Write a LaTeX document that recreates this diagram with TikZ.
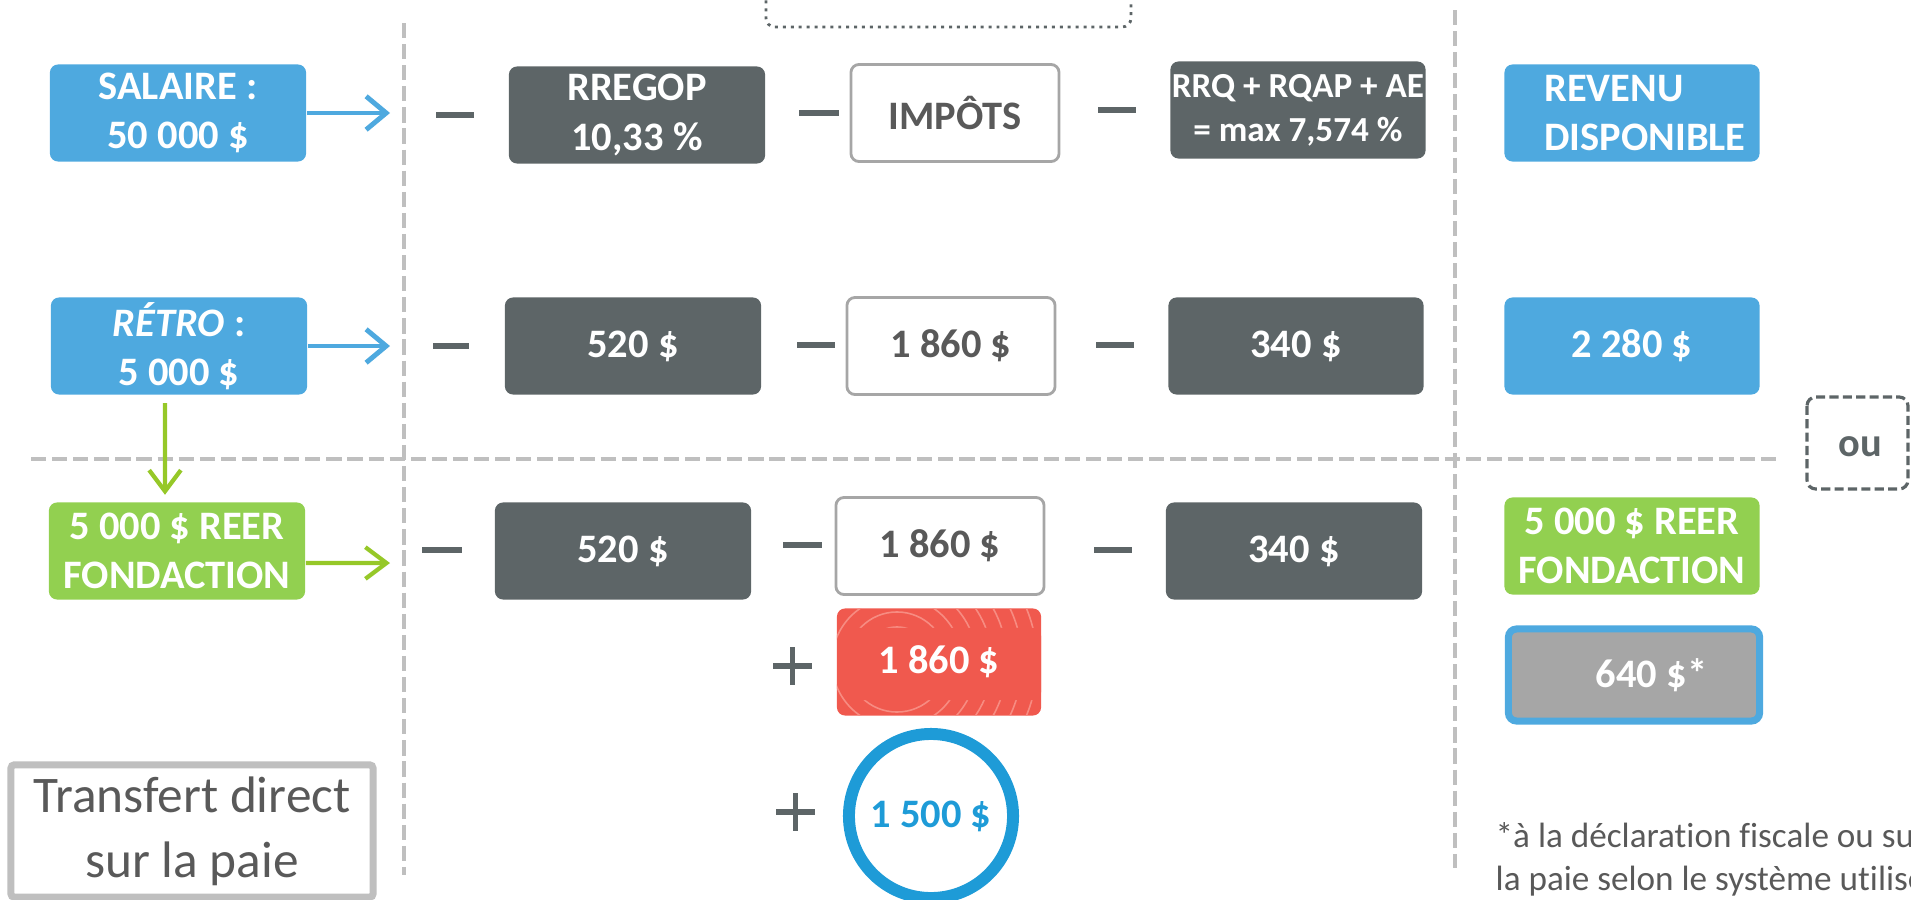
\documentclass[tikz,border=0pt]{standalone}
\usepackage{fontspec}
\setmainfont{Carlito}[Ligatures=CommonOff]
\usetikzlibrary{arrows.meta}

\definecolor{bleu}{RGB}{78,169,223}
\definecolor{grisfonce}{RGB}{93,101,103}
\definecolor{gristexte}{RGB}{89,89,89}
\definecolor{grismoyen}{RGB}{166,166,166}
\definecolor{grisclair}{RGB}{191,191,191}
\definecolor{vert}{RGB}{146,208,80}
\definecolor{vertfleche}{RGB}{150,200,40}
\definecolor{rouge}{RGB}{240,89,78}
\definecolor{rougepale}{RGB}{247,140,130}
\definecolor{bleucercle}{RGB}{30,155,215}

\tikzset{
	boite/.style={rounded corners=2.3pt, minimum width=2.56cm, minimum height=0.97cm, inner sep=0pt, align=center, font=\fontsize{11.5}{14}\selectfont\bfseries},
	bleuebox/.style={boite, fill=bleu, text=white},
	grisbox/.style={boite, fill=grisfonce, text=white},
	blancbox/.style={boite, draw=grismoyen, line width=0.8pt, fill=white, text=gristexte, minimum width=2.08cm},
	vertbox/.style={boite, fill=vert, text=white},
	signe/.style={grisfonce, line width=1.7pt},
	separateur/.style={grisclair, line width=1.15pt, dash pattern=on 4.3pt off 1.7pt},
	flechebleue/.style={bleu, line width=1.4pt, -{Straight Barb[length=5.7pt, width=9.5pt]}},
	flecheverte/.style={vertfleche, line width=1.2pt, -{Straight Barb[length=6pt, width=9pt]}},
}

\begin{document}
\begin{tikzpicture}[x=0.01cm, y=-0.01cm]
			%%%%% START %%%%%
			\useasboundingbox (0,0) rectangle (1911,900);
			\clip (0,0) rectangle (1911,900);
			
			\draw[separateur] (404,23) -- (404,875);
			\draw[separateur] (1455,10) -- (1455,868);
			\draw[separateur] (31,459) -- (1777,459);
			
			\draw[grisfonce, line width=0.8pt, dash pattern=on 0.85pt off 1.4pt, rounded corners=2.5pt] (766,-40) rectangle (1131,27);
			
			\node[bleuebox] (salaire) at (178,113) {SALAIRE :\\50 000 \$};
			\node[bleuebox] (retro) at (179,346) {\textit{RÉTRO} :\\5 000 \$};
			\node[vertbox] (reer) at (177,551) {5 000 \$ REER\\FONDACTION};
			
			\node[grisbox] (rregop) at (637,115) {RREGOP\\10,33 \%};
			\node[blancbox] (impots) at (955,113) {IMPÔTS};
			\node[grisbox, minimum width=2.55cm, font=\fontsize{10}{12.5}\selectfont\bfseries] (cotis) at (1298,110) {RRQ + RQAP + AE\\= max 7,574 \%};
			\node[bleuebox, minimum width=2.55cm, align=left] (revenu) at (1632,113) {\hspace*{7.4pt}REVENU\\\hspace*{7.4pt}DISPONIBLE};
			
			\node[grisbox] (rregop2) at (633,346) {520 \$};
			\node[blancbox] (impots2) at (951,346) {1 860 \$};
			\node[grisbox, minimum width=2.55cm] (cotis2) at (1296,346) {340 \$};
			\node[bleuebox, minimum width=2.55cm] (revenu2) at (1632,346) {2 280 \$};
			
			\node[grisbox] (rregop3) at (623,551) {520 \$};
			\node[blancbox] (impots3) at (940,546) {1 860 \$};
			\node[grisbox] (cotis3) at (1294,551) {340 \$};
			\node[vertbox, minimum width=2.55cm] (reer2) at (1632,546) {5 000 \$ REER\\FONDACTION};
			
			\node[boite, fill=grismoyen, draw=bleu, line width=2pt, text=white, minimum width=2.51cm, minimum height=0.92cm] (credit) at (1634,675) {\hspace*{10pt}640 \$*};
			
			\node[boite, fill=rouge, text=white, minimum width=2.04cm, minimum height=1.07cm,
				path picture={
					\foreach \r in {0.35,0.5,...,1.5}
						\draw[rougepale, line width=0.45pt] ([xshift=-0.42cm]path picture bounding box.center) circle (\r cm);
					\fill[rouge] ([xshift=0.08cm, yshift=0.34cm]path picture bounding box.west) rectangle ([yshift=-0.38cm]path picture bounding box.east);
				}] (remb) at (939,662) {1 860 \$};
			
			\node[circle, draw=bleucercle, line width=3.4pt, minimum size=1.64cm, inner sep=0pt, text=bleucercle, font=\fontsize{11.5}{14}\selectfont\bfseries] (prime) at (931,816) {1 500 \$};
			
			% signes
			\draw[signe] (436,115) -- (474,115);
			\draw[signe] (799,113) -- (839,113);
			\draw[signe] (1098,110) -- (1136,110);
			\draw[signe] (433,346) -- (469,346);
			\draw[signe] (797,345) -- (835,345);
			\draw[signe] (1096,345) -- (1134,345);
			\draw[signe] (422,550) -- (462,550);
			\draw[signe] (783,545) -- (822,545);
			\draw[signe] (1094,550) -- (1132,550);
			\draw[signe] (773,666) -- (812,666) (792.5,647) -- (792.5,685);
			\draw[signe] (776,812) -- (815,812) (795.5,793) -- (795.5,831);
			
			% fleches
			\coordinate (pointe1) at (390,113);
			\coordinate (pointe2) at (390,346);
			\coordinate (pointe3) at (390,563);
			\draw[flechebleue] (salaire.east) -- (pointe1);
			\draw[flechebleue] (retro.east) -- (pointe2);
			\draw[flecheverte] ([xshift=-0.14cm, yshift=-0.08cm]retro.south) -- ([xshift=-0.12cm, yshift=0.07cm]reer.north);
			\draw[flecheverte] ([yshift=-0.12cm]reer.east) -- (pointe3);
			
			\draw[grisfonce, line width=0.9pt, dash pattern=on 2.6pt off 1.2pt, rounded corners=2.5pt] (1807,397) rectangle (1908,489);
			\node[text=grisfonce, font=\fontsize{11.5}{13}\selectfont\bfseries] (ou) at (1860,447) {ou};
			
			\node[draw=grisclair, line width=2pt, rounded corners=1pt, minimum width=3.62cm, minimum height=1.28cm, align=center, text=gristexte, font=\fontsize{14.6}{18.5}\selectfont] (transfert) at (192,831) {Transfert direct\\sur la paie};
			
			\node[anchor=base west, align=left, inner sep=0pt, text=gristexte, font=\fontsize{10}{12}\selectfont] (note) at (1495,890) {*à la déclaration fiscale ou sur\\la paie selon le système utilisé};
			
			%%%%% END %%%%%
		\end{tikzpicture}
\end{document}
